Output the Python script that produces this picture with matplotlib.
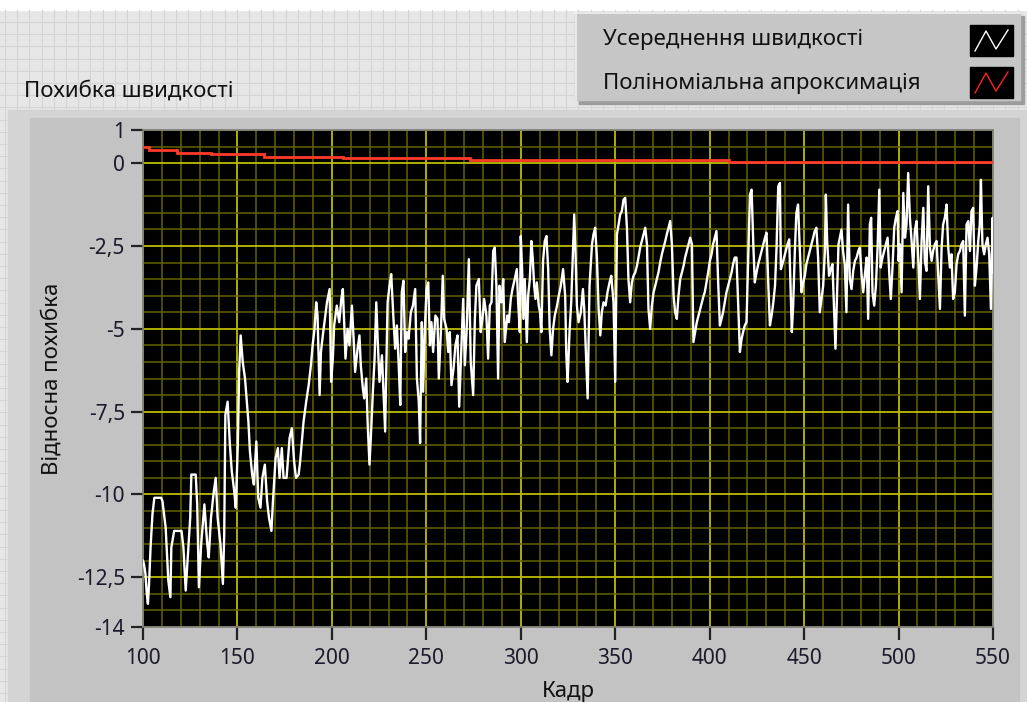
import numpy as np
import matplotlib
matplotlib.use('Agg')
import matplotlib.pyplot as plt
from matplotlib.patches import Rectangle
from matplotlib.ticker import MultipleLocator

plt.rcParams['font.family'] = ['Noto Sans', 'DejaVu Sans']

# Averaged speed error, read frame by frame
frame = [
    100.0, 100.5, 101.3, 102.0, 102.6, 103.2, 104.0, 105.0, 106.0, 109.6,
    110.3, 112.0, 113.4, 114.5, 115.0, 116.5, 120.4, 121.4, 122.6, 124.0,
    125.0, 125.6, 127.9, 128.7, 129.6, 130.8, 131.9, 132.5, 134.0, 134.8,
    136.0, 137.5, 138.5, 139.5, 141.0, 142.3, 143.0, 143.6, 144.8, 146.0,
    147.0, 148.3, 149.1, 150.2, 150.9, 151.7, 152.8, 154.0, 155.0, 155.8,
    156.6, 157.8, 158.7, 160.0, 161.0, 162.2, 163.2, 164.5, 165.7, 166.7,
    168.0, 168.8, 170.2, 171.4, 172.3, 173.5, 174.4, 176.0, 177.6, 178.8,
    180.0, 181.0, 182.4, 183.2, 185.0, 186.4, 187.7, 188.9, 189.8, 190.8,
    191.7, 192.4, 193.5, 194.2, 195.2, 196.5, 197.4, 198.8, 199.6, 200.5,
    201.2, 202.6, 203.9, 205.0, 205.8, 206.5, 207.2, 208.3, 209.3, 210.6,
    211.5, 212.3, 213.6, 214.6, 215.3, 216.4, 217.1, 218.2, 218.9, 219.9,
    220.6, 221.7, 222.6, 223.5, 224.3, 225.2, 226.5, 227.3, 228.2, 228.7,
    229.5, 230.5, 231.4, 232.6, 233.5, 234.4, 235.3, 236.2, 237.0, 237.9,
    238.8, 239.7, 240.6, 241.8, 242.9, 244.1, 245.0, 246.0, 246.7, 247.6,
    248.3, 249.2, 250.1, 251.0, 251.9, 252.7, 253.6, 254.8, 255.9, 256.6,
    257.7, 258.7, 259.4, 260.7, 261.6, 262.4, 263.3, 264.4, 265.4, 266.5,
    267.4, 268.6, 269.5, 270.4, 271.3, 272.5, 273.5, 274.8, 275.7, 276.5,
    277.8, 278.8, 279.7, 280.6, 281.8, 282.7, 283.6, 284.5, 285.4, 286.2,
    287.1, 288.0, 288.7, 289.8, 290.7, 291.5, 292.9, 293.7, 294.7, 295.6,
    296.8, 297.9, 298.6, 299.5, 300.0, 300.7, 301.4, 302.1, 303.2, 303.9,
    304.8, 305.6, 306.3, 307.1, 307.8, 308.5, 309.5, 310.2, 310.9, 311.8,
    312.7, 313.6, 314.5, 315.3, 316.2, 317.1, 318.0, 319.2, 320.1, 321.2,
    322.4, 323.5, 324.1, 324.8, 325.8, 326.7, 327.6, 328.3, 329.0, 329.7,
    330.6, 331.8, 332.9, 333.6, 334.7, 335.4, 336.4, 337.7, 338.5, 339.4,
    340.3, 341.2, 342.1, 342.9, 343.8, 344.9, 345.9, 347.0, 347.9, 349.1,
    350.0, 350.9, 351.8, 352.6, 353.5, 354.4, 355.3, 356.2, 357.0, 357.9,
    358.8, 359.7, 360.6, 361.5, 362.3, 363.2, 364.1, 365.0, 365.9, 366.8,
    367.6, 368.5, 369.4, 370.3, 371.2, 372.0, 372.9, 373.8, 374.7, 375.6,
    376.5, 377.3, 378.2, 379.1, 380.0, 380.9, 381.7, 382.6, 383.5, 384.4,
    385.3, 386.2, 387.0, 387.9, 388.8, 389.7, 390.6, 391.4, 392.3, 393.2,
    394.1, 395.0, 395.9, 396.8, 397.4, 398.3, 399.2, 400.1, 401.0, 401.8,
    402.7, 403.6, 404.5, 405.4, 406.3, 407.1, 408.0, 408.9, 409.8, 410.7,
    411.6, 412.4, 413.3, 414.2, 415.1, 416.0, 416.9, 417.7, 418.6, 419.5,
    420.4, 421.3, 422.2, 423.1, 423.9, 424.8, 425.7, 426.6, 427.5, 428.4,
    429.3, 430.1, 431.0, 431.9, 432.8, 433.7, 434.6, 435.4, 436.3, 437.2,
    437.7, 438.5, 439.4, 440.3, 441.2, 442.1, 442.8, 443.5, 444.2, 445.1,
    445.9, 446.8, 447.7, 448.6, 449.5, 450.4, 451.2, 452.1, 453.0, 453.9,
    454.8, 455.6, 456.5, 457.4, 458.3, 459.2, 460.1, 461.0, 461.5, 462.2,
    463.2, 464.1, 465.0, 465.7, 466.6, 467.5, 468.2, 468.9, 469.8, 470.6,
    471.5, 472.4, 473.3, 474.2, 475.1, 476.0, 476.9, 477.8, 478.7, 479.5,
    480.4, 481.3, 482.2, 483.1, 483.9, 484.8, 485.5, 486.2, 487.1, 488.0,
    488.9, 489.8, 490.5, 491.5, 492.4, 493.3, 494.2, 495.1, 495.9, 496.8,
    497.7, 498.6, 499.5, 500.0, 500.7, 501.6, 502.5, 503.4, 504.2, 505.1,
    506.0, 506.9, 507.8, 508.6, 509.5, 510.4, 511.3, 512.2, 513.1, 513.9,
    514.8, 515.7, 516.6, 517.5, 518.3, 519.2, 520.1, 521.0, 521.9, 522.8,
    523.6, 524.5, 525.4, 526.3, 527.2, 528.0, 528.9, 529.8, 530.7, 531.6,
    532.5, 533.3, 534.2, 535.1, 536.0, 536.9, 537.8, 538.6, 539.5, 540.4,
    541.3, 542.2, 543.0, 543.6, 544.4, 545.3, 546.2, 547.1, 548.0, 548.9,
    549.8, 550.0,
]
avg_error = [
    -12.0, -12.1, -12.4, -13.0, -13.3, -12.7, -11.6, -10.6, -10.1, -10.1,
    -10.2, -11.0, -12.6, -13.1, -11.6, -11.1, -11.1, -11.6, -12.9, -11.6,
    -10.7, -9.4, -9.4, -10.3, -12.8, -11.5, -10.7, -10.3, -11.5, -11.9,
    -10.7, -9.9, -9.5, -10.7, -11.5, -12.7, -11.2, -7.6, -7.2, -8.5,
    -9.3, -9.9, -10.4, -8.5, -6.3, -5.2, -6.0, -6.5, -7.2, -7.8,
    -8.7, -9.4, -9.7, -8.4, -10.1, -10.4, -9.5, -9.1, -10.2, -10.7,
    -11.1, -10.2, -8.9, -8.6, -9.5, -8.6, -9.5, -9.5, -8.3, -8.0,
    -9.0, -9.5, -9.4, -9.0, -7.8, -7.2, -6.7, -6.1, -5.5, -5.0,
    -4.2, -4.6, -7.0, -5.7, -5.2, -4.6, -4.2, -3.8, -6.6, -5.9,
    -4.9, -4.3, -4.8, -4.1, -3.8, -4.8, -5.9, -5.0, -5.5, -4.3,
    -5.3, -6.3, -5.6, -5.2, -6.1, -6.8, -7.1, -6.5, -7.8, -9.1,
    -8.3, -6.9, -5.9, -4.2, -5.4, -6.6, -5.8, -6.9, -8.1, -6.5,
    -4.2, -3.7, -3.35, -4.7, -5.6, -4.9, -6.0, -7.3, -3.9, -3.55,
    -5.7, -5.1, -5.3, -4.5, -4.3, -3.8, -6.5, -7.2, -8.45, -4.8,
    -6.9, -5.0, -3.8, -3.6, -5.5, -4.8, -5.7, -4.6, -4.7, -6.5,
    -5.1, -3.4, -4.7, -5.0, -5.7, -5.1, -6.7, -6.2, -5.5, -5.2,
    -7.35, -5.5, -4.1, -6.1, -5.1, -2.9, -6.0, -7.0, -4.7, -3.7,
    -3.5, -5.1, -4.7, -4.1, -4.6, -5.9, -4.3, -4.2, -2.65, -2.55,
    -3.7, -6.5, -3.7, -4.2, -3.5, -5.4, -4.6, -4.8, -4.1, -3.8,
    -3.5, -3.2, -4.2, -5.1, -2.2, -3.2, -4.7, -3.5, -5.4, -4.0,
    -3.5, -2.35, -2.85, -3.7, -4.1, -3.6, -4.3, -4.5, -5.1, -2.95,
    -2.35, -2.2, -3.2, -5.0, -5.8, -5.0, -4.6, -4.3, -4.0, -3.7,
    -3.2, -4.0, -5.8, -6.6, -5.1, -4.2, -2.75, -1.55, -2.75, -4.3,
    -4.8, -4.5, -3.8, -4.4, -6.0, -7.1, -3.7, -2.45, -2.15, -1.95,
    -2.85, -4.4, -5.2, -4.5, -4.2, -4.3, -3.9, -3.6, -3.4, -4.2,
    -6.6, -2.15, -1.85, -1.55, -1.45, -1.1, -1.05, -1.95, -3.5, -4.2,
    -3.6, -3.4, -3.3, -3.1, -2.85, -2.55, -2.35, -2.15, -1.95, -2.45,
    -4.4, -5.0, -4.3, -3.9, -3.7, -3.5, -3.3, -3.0, -2.75, -2.55,
    -2.35, -2.15, -1.95, -1.75, -2.45, -4.0, -4.5, -4.7, -4.0, -3.5,
    -3.3, -3.1, -2.85, -2.65, -2.45, -2.25, -2.45, -5.4, -5.1, -4.8,
    -4.6, -4.4, -4.2, -4.0, -3.9, -3.6, -3.3, -2.95, -2.75, -2.45,
    -2.25, -2.05, -3.6, -4.9, -4.7, -4.5, -4.2, -3.9, -3.7, -3.5,
    -3.3, -3.05, -2.85, -2.85, -4.3, -5.7, -5.3, -5.1, -4.9, -4.8,
    -2.85, -0.95, -0.8, -2.45, -3.6, -3.3, -3.05, -2.85, -2.65, -2.45,
    -2.25, -2.1, -3.6, -4.9, -4.6, -4.2, -3.7, -2.55, -0.7, -0.6,
    -3.2, -3.05, -2.85, -2.65, -2.45, -2.3, -3.7, -5.1, -4.3, -2.65,
    -1.5, -1.25, -2.55, -3.9, -3.6, -3.4, -3.05, -2.85, -2.65, -2.45,
    -2.25, -2.05, -1.95, -2.85, -4.5, -4.1, -3.7, -2.65, -0.95, -2.35,
    -3.4, -3.2, -3.05, -4.2, -5.6, -3.8, -2.45, -2.25, -2.0, -2.65,
    -3.05, -4.5, -1.25, -3.5, -3.8, -3.25, -2.95, -2.85, -2.65, -2.55,
    -3.35, -3.9, -3.35, -2.85, -4.7, -1.85, -1.65, -3.9, -4.3, -3.7,
    -2.55, -0.8, -3.15, -2.85, -2.65, -2.45, -2.25, -3.35, -4.1, -3.15,
    -1.95, -1.65, -1.45, -2.95, -2.45, -3.9, -0.9, -2.25, -1.85, -0.3,
    -1.65, -2.35, -3.15, -2.05, -1.75, -2.85, -4.1, -2.35, -1.35, -2.95,
    -3.25, -0.7, -2.55, -2.95, -2.65, -2.45, -2.35, -3.35, -4.4, -2.55,
    -1.85, -1.65, -1.25, -2.55, -3.15, -2.75, -4.1, -3.9, -3.05, -2.75,
    -2.65, -2.45, -2.35, -4.6, -1.85, -1.75, -2.65, -1.45, -1.35, -3.7,
    -3.15, -2.35, -1.85, -0.5, -2.45, -2.75, -2.45, -2.25, -2.75, -4.4,
    -1.65, -3.3,
]

# Polynomial fit, quantised into flat steps
fit_edges = [100, 103, 118, 136, 164, 206, 273, 410, 550]
fit_values = [0.48, 0.39, 0.32, 0.27, 0.20, 0.14, 0.08, 0.04]

y_ticks = [1, 0, -2.5, -5, -7.5, -10, -12.5, -14]
y_tick_labels = ['1', '0', '-2,5', '-5', '-7,5', '-10', '-12,5', '-14']
x_ticks = [100, 150, 200, 250, 300, 350, 400, 450, 500, 550]

W, H = 1027, 702
fig = plt.figure(figsize=(W / 100, H / 100), dpi=100)

# front panel background in pixel coordinates
bg = fig.add_axes([0, 0, 1, 1])
bg.set_xlim(0, W)
bg.set_ylim(H, 0)
bg.axis('off')
bg.add_patch(Rectangle((0, 0), W, H, color='#e6e6e6', zorder=0))
bg.add_patch(Rectangle((0, 0), W, 10, color='white', zorder=1))
for gx in np.arange(5, W, 12.2):
    bg.plot([gx, gx], [10, H], color='#d4d4d4', lw=0.8, zorder=1)
for gy in np.arange(22, H, 12.2):
    bg.plot([0, W], [gy, gy], color='#d4d4d4', lw=0.8, zorder=1)

# graph frame
bg.add_patch(Rectangle((8, 110), W - 8, H - 110, color='#d4d4d4', zorder=2))
bg.add_patch(Rectangle((30, 118), W - 38, H - 118, color='#c3c3c3', zorder=3))

# legend panel
bg.add_patch(Rectangle((579, 16), 445, 88, color='#9c9c9c', zorder=4))
bg.add_patch(Rectangle((575, 12), 445, 88, color='#c6c6c6', zorder=5))
bg.plot([575, 1020], [12.5, 12.5], color='#f0f0f0', lw=1.2, zorder=6)
bg.plot([575.5, 575.5], [12, 100], color='#f0f0f0', lw=1.2, zorder=6)
for top, col in [(25, 'white'), (67, '#ff2020')]:
    bg.add_patch(Rectangle((970, top), 43, 31, color='black', zorder=6))
    bg.plot([975, 986, 996, 1008], [top + 26, top + 6, top + 24, top + 5],
            color=col, lw=1.0, zorder=7)
bg.text(603, 40, 'Усереднення швидкості', fontsize=16, color='#111111',
        va='center', ha='left', zorder=7)
bg.text(603, 83, 'Поліноміальна апроксимація', fontsize=16, color='#111111',
        va='center', ha='left', zorder=7)
bg.text(24, 91, 'Похибка швидкості', fontsize=16, color='#111111',
        va='center', ha='left', zorder=7)

# plot area
ax = fig.add_axes([143 / W, 1 - 627 / H, 850 / W, 497 / H])
ax.set_facecolor('black')
ax.set_xlim(100, 550)
ax.set_ylim(-14, 1)

ax.xaxis.set_minor_locator(MultipleLocator(10))
ax.yaxis.set_minor_locator(MultipleLocator(0.5))
ax.grid(which='minor', color='#626200', lw=1.1)
ax.grid(which='major', color='#bcbc00', lw=1.3)
ax.set_axisbelow(True)

ax.set_xticks(x_ticks)
ax.set_yticks(y_ticks)
ax.set_yticklabels(y_tick_labels)
ax.tick_params(which='major', direction='out', length=9, width=1.6,
               color='#222222', labelsize=15, labelcolor='#1a1a2a', pad=4)
ax.tick_params(axis='x', pad=6)
ax.tick_params(which='minor', length=0)
for s in ax.spines.values():
    s.set_color('#7a7a7a')
    s.set_linewidth(1.2)

ax.plot(frame, avg_error, color='white', lw=1.7, zorder=3)
ax.stairs(fit_values, fit_edges, color='#ff3a2a', lw=2.0, baseline=None, zorder=4)

ax.set_xlabel('Кадр', fontsize=16, color='#111111', labelpad=9)
ax.set_ylabel('Відносна похибка', fontsize=16, color='#111111', labelpad=10)

fig.savefig('out.png', dpi=100)
